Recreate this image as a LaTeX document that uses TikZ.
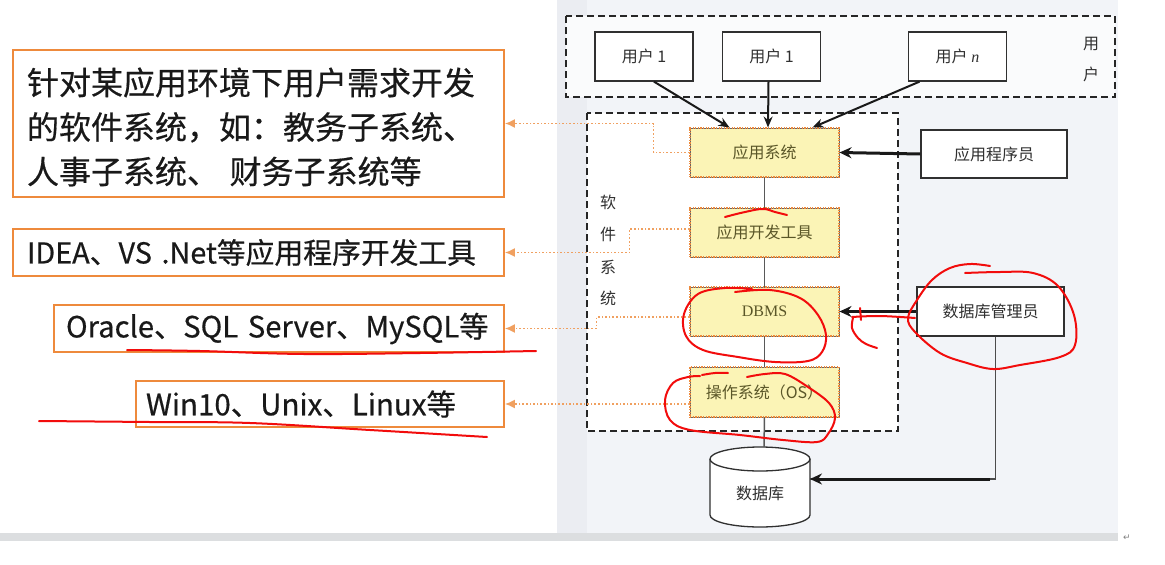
\documentclass[tikz,border=0pt]{standalone}
\usepackage{fontspec}
\setmainfont{Noto Sans CJK SC}
\newfontfamily\lfont{Noto Sans CJK SC}[FakeBold=0.5]
\newfontfamily\serifL{Liberation Serif}
\newfontfamily\dejavu{DejaVu Sans}
\usetikzlibrary{arrows.meta,calc}
\definecolor{org}{HTML}{EE8A3C}
\definecolor{dotorg}{HTML}{F0A060}
\definecolor{yel}{HTML}{FBF4B6}
\definecolor{olive}{HTML}{5A5628}
\definecolor{panel}{HTML}{F2F4F8}
\definecolor{strip}{HTML}{EBEDF2}
\definecolor{barcol}{HTML}{DCDEE0}
\definecolor{ink}{HTML}{303030}
\definecolor{redink}{HTML}{F20C0C}
\begin{document}
\begin{tikzpicture}[x=1pt,y=-1pt,
  lbox/.style={draw=org, line width=1.8pt, fill=white, rectangle, align=left, inner ysep=0pt,
               text=black!90},
  ybox/.style={rectangle, fill=yel, draw=gray!80!black, line width=1pt, minimum width=149pt,
               minimum height=49pt, text=olive, font=\fontsize{16}{19}\selectfont,
               postaction={draw=org, line width=1.3pt, dash pattern=on 1.3pt off 1.3pt}},
  wbox/.style={rectangle, fill=white, draw=ink, line width=1.3pt, text=ink,
               font=\fontsize{16}{19}\selectfont},
  dbox/.style={draw=black!85, line width=2.5pt, dash pattern=on 7pt off 4pt},
  odot/.style={draw=dotorg, line width=1.6pt, dash pattern=on 1.6pt off 2pt,
               -{Latex[length=10pt,width=9pt,fill=dotorg]}},
  barr/.style={draw=black!90, line width=2pt, -{Stealth[length=11pt,width=9pt]}},
  tarr/.style={draw=black!90, line width=3pt, -{Stealth[length=12pt,width=11pt]}},
  vline/.style={draw=black!65, line width=1.5pt},
  vtxt/.style={text=ink, font=\fontsize{16}{19}\selectfont},
  scribble/.style={draw=redink, line width=2pt, line cap=round, line join=round}
]
\useasboundingbox (0,0) rectangle (1165,565);
\fill[white] (0,0) rectangle (1165,565);
% right panel background
\fill[panel] (557,0) rectangle (1118,533);
\fill[strip] (557,0) rectangle (587,533);
\fill[barcol] (0,533) rectangle (1118,541);
\node[text=gray, font=\dejavu\fontsize{9}{9}\selectfont] (ret) at (1127,538) {↵};

% dashed groups
\draw[dbox, fill=white!60!panel] (566,16) rectangle (1115,97);
\draw[dbox, fill=white] (587,113) rectangle (898,431);

% users
\node[wbox, minimum width=98pt, minimum height=49pt] (u1) at (644,56.5) {用户 1};
\node[wbox, minimum width=98pt, minimum height=49pt] (u2) at (771.5,56.5) {用户 1};
\node[wbox, minimum width=98pt, minimum height=49pt] (un) at (957.5,56.5) {用户 {\serifL\itshape n}};
\node[vtxt] (ulab1) at (1091,44) {用};
\node[vtxt] (ulab2) at (1091,74) {户};

% software system label
\node[vtxt] (s1) at (608,202) {软};
\node[vtxt] (s2) at (608,234) {件};
\node[vtxt] (s3) at (608,267) {系};
\node[vtxt] (s4) at (608,298) {统};

% yellow boxes
\node[ybox] (app) at (764.5,152.5) {应用系统};
\node[ybox] (dev) at (764.5,232.5) {应用开发工具};
\node[ybox] (dbms) at (764.5,311.5) {\serifL DBMS};
\node[ybox, minimum height=50pt] (os) at (764.5,392) {操作系统（OS）};

% right boxes
\node[wbox, minimum width=146pt, minimum height=48pt] (prog) at (994,154) {应用程序员};
\node[wbox, minimum width=147pt, minimum height=49pt] (admin) at (990.5,311.5) {数据库管理员};

% database cylinder
\coordinate (dbtop) at (764,447);
\coordinate (dbR) at (810,479);
\draw[draw=ink, line width=1.3pt, fill=white]
  (710,459) -- (710,515) arc[start angle=180, end angle=360, x radius=50, y radius=-12]
  -- (810,459) arc[start angle=0, end angle=180, x radius=50, y radius=-12] -- cycle;
\draw[draw=ink, line width=1.3pt] (710,459) arc[start angle=180, end angle=360, x radius=50, y radius=-12];
\node[text=ink, font=\fontsize{16}{19}\selectfont] (db) at (760,493) {数据库};

% vertical chain
\draw[vline] (app.south) -- (dev.north);
\draw[vline] (dev.south) -- (dbms.north);
\draw[vline] (dbms.south) -- (os.north);
\draw[vline] (os.south) -- (dbtop);

% black arrows
\draw[barr] ([xshift=10pt]u1.south) -- ([xshift=-35pt]app.north);
\draw[barr] ([xshift=-3pt]u2.south) -- ([xshift=3.5pt]app.north);
\draw[barr] ([xshift=-38pt]un.south) -- ([xshift=48pt]app.north);
\draw[tarr] (prog.west) -- (app.east);
\draw[tarr] (admin.west) -- (dbms.east);
\draw[draw=black!70, line width=1.5pt] ([xshift=5pt]admin.south) |- (dbR);
\draw[draw=black!90, line width=3pt, -{Stealth[length=12pt,width=11pt]}] ($(dbR)+(180,0)$) -- (dbR);

% left boxes
\node[lbox, font=\lfont\fontsize{32}{44.5}\selectfont, text width=463pt, inner xsep=14pt, minimum height=147pt] (b1) at (258.5,123.5)
  {\mbox{\rule{0pt}{34pt}针对某应用环境下用户需求开发}\\\mbox{的软件系统，如：教务子系统、}\\\mbox{人事子系统、 财务子系统等}};
\node[lbox, font=\lfont\fontsize{28.8}{33}\selectfont, text width=463pt, inner xsep=14pt, minimum height=47pt] (b2) at (258.5,252.5)
  {\mbox{IDEA、VS .Net等应用程序开发工具}};
\node[lbox, font=\lfont\fontsize{29.2}{33}\selectfont, text width=426pt, inner xsep=12pt, minimum height=47pt] (b3) at (279,328.5)
  {\mbox{Oracle、SQL Server、MySQL等}};
\node[lbox, font=\lfont\fontsize{29.5}{33}\selectfont, text width=348pt, inner xsep=10pt, minimum height=46pt] (b4) at (320,404)
  {\mbox{Win10、Unix、Linux等}};

% orange dotted connectors
\draw[odot] (app.west) -- ++(-36,0) |- (b1.east);
\draw[odot] ([yshift=3.5pt]dev.west) -- ++(-60,0) |- (b2.east);
\draw[odot] ([yshift=-5.5pt]dbms.west) -- ++(-93,0) |- (b3.east);
\draw[odot] (os.west |- b4.east) -- (b4.east);

% red hand annotations
\draw[scribble] plot[smooth, tension=0.7] coordinates {(725,217) (745,212) (763,209) (775,212) (787,215)};
\draw[scribble] plot[smooth, tension=0.6] coordinates {(735,292) (770,290) (800,298) (818,315) (826,335) (822,352) (808,361) (775,362) (738,357) (703,350) (686,336) (684,314) (698,294) (725,288) (752,289)};
\draw[scribble] plot[smooth, tension=0.6] coordinates {(852,317) (880,316) (915,318)};
\draw[scribble] plot[smooth, tension=0.6] coordinates {(853,318) (852,328) (858,338) (866,344) (877,348)};
\draw[scribble] (860,308) -- (861,320);
\draw[scribble] plot[smooth, tension=0.6] coordinates {(965,273) (1000,272) (1033,273) (1058,286) (1074,315) (1075,345) (1060,357) (1020,365) (993,369) (967,363) (940,353) (915,332) (908,318) (917,300) (932,280) (950,268) (970,264) (990,266)};
\draw[scribble] plot[smooth, tension=0.6] coordinates {(702,375) (715,373) (728,373)};
\draw[scribble] plot[smooth, tension=0.6] coordinates {(747,377) (765,374) (785,374) (808,387) (829,403) (835,418) (828,434) (817,442) (783,440) (740,435) (690,430) (670,420) (665,400) (673,383) (688,377) (700,376)};
\draw[scribble] plot[smooth, tension=0.6] coordinates {(127,350) (200,351) (304,354) (420,353) (536,351)};
\draw[scribble] plot[smooth, tension=0.6] coordinates {(39,421) (150,422) (250,423) (370,430) (487,437)};
\end{tikzpicture}
\end{document}
